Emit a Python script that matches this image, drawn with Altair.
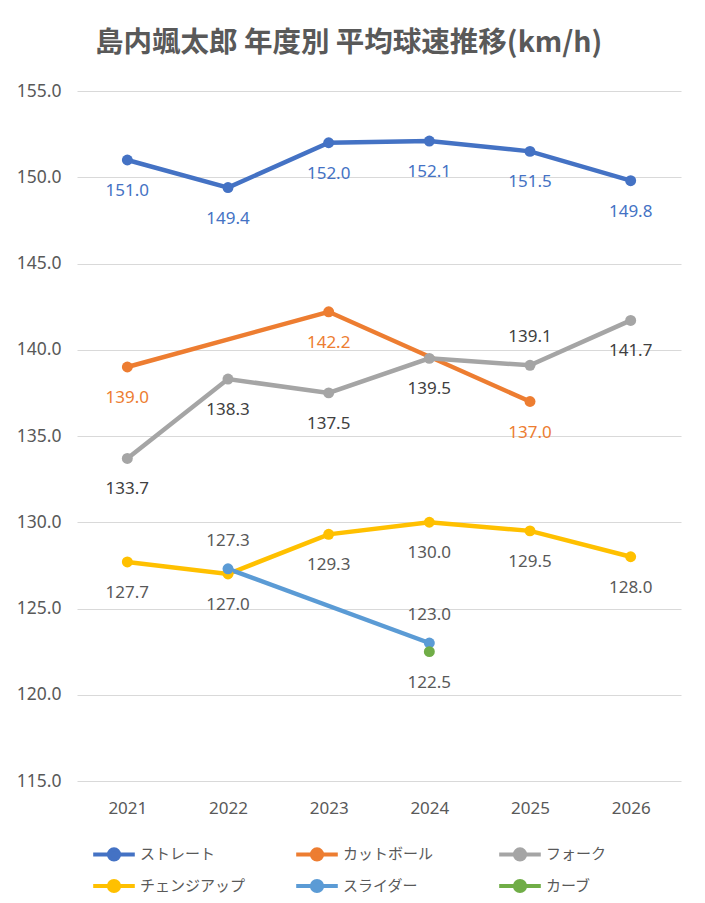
import altair as alt
import pandas as pd

years = ["2021", "2022", "2023", "2024", "2025", "2026"]
series = ["ストレート", "カットボール", "フォーク", "チェンジアップ", "スライダー", "カーブ"]
straight = [151.0, 149.4, 152.0, 152.1, 151.5, 149.8]
cutball = [139.0, None, 142.2, None, 137.0, None]
fork = [133.7, 138.3, 137.5, 139.5, 139.1, 141.7]
changeup = [127.7, 127.0, 129.3, 130.0, 129.5, 128.0]
slider = [None, 127.3, None, 123.0, None, None]
curve = [None, None, None, 122.5, None, None]
values = [straight, cutball, fork, changeup, slider, curve]

colors = ["#4472C4", "#ED7D31", "#A5A5A5", "#FFC000", "#5B9BD5", "#70AD47"]
label_colors = ["#4472C4", "#ED7D31", "#404040", "#595959", "#595959", "#595959"]
labels_above = {("フォーク", "2025"), ("スライダー", "2022"), ("スライダー", "2024")}

rows = []
for si, (s, vals) in enumerate(zip(series, values)):
    for y, v in zip(years, vals):
        if v is None:
            continue
        rows.append({
            "series": s, "order": si, "year": y, "speed": v,
            "lc": label_colors[si],
            "pos": "above" if (s, y) in labels_above else "below",
        })
df = pd.DataFrame(rows)

FONT = "Noto Sans"
JFONT = "Noto Sans CJK JP"

legend_symbol = "M-1.3,0L1.3,0M0.32,0A0.32,0.32,0,1,1,-0.32,0A0.32,0.32,0,1,1,0.32,0Z"

x = alt.X("year:O", title=None,
          scale=alt.Scale(domain=years, paddingOuter=0.5),
          axis=alt.Axis(labelAngle=0, domain=False, ticks=False, labelPadding=19,
                        labelFont=FONT, labelFontSize=17, labelColor="#595959"))
y = alt.Y("speed:Q", title=None,
          scale=alt.Scale(domain=[115, 155], nice=False, zero=False),
          axis=alt.Axis(values=[115, 120, 125, 130, 135, 140, 145, 150, 155], format=".1f",
                        domain=False, ticks=False, labelPadding=16, gridColor="#D9D9D9",
                        labelFont=FONT, labelFontSize=17.5, labelColor="#595959"))
color = alt.Color("series:N", title=None,
                  scale=alt.Scale(domain=series, range=colors),
                  legend=alt.Legend(orient="none", legendX=19, legendY=745, columns=3,
                                    direction="horizontal", gridAlign="all",
                                    columnPadding=42, rowPadding=0,
                                    symbolType=legend_symbol, symbolSize=1024,
                                    symbolStrokeWidth=4, symbolOffset=0,
                                    labelFont=JFONT, labelFontSize=15, labelColor="#595959",
                                    labelOffset=8))

base = alt.Chart(df)
lines = base.mark_line(strokeWidth=4.5).encode(x=x, y=y, color=color, order="order:Q")
points = base.mark_point(filled=True, size=120, opacity=1).encode(x=x, y=y, color=color)

text_enc = dict(x=x, y=y, text=alt.Text("speed:Q", format=".1f"),
                color=alt.Color("lc:N", scale=None))
below = base.transform_filter(alt.datum.pos == "below").mark_text(
    dy=31, font=FONT, fontSize=17).encode(**text_enc)
above = base.transform_filter(alt.datum.pos == "above").mark_text(
    dy=-28, font=FONT, fontSize=17).encode(**text_enc)

chart = alt.layer(lines, points, below, above).properties(
    width=604, height=690,
    title=alt.Title("島内颯太郎 年度別 平均球速推移(km/h)", font=JFONT, fontSize=28.5,
                    fontWeight="bold", color="#595959", anchor="middle", frame="bounds",
                    offset=25),
    padding={"left": 69, "top": 83, "right": 16, "bottom": 114},
    autosize=alt.AutoSizeParams(type="none"),
    background="white",
).configure_view(strokeWidth=0)

chart.save("out.html", embed_options={"renderer": "svg", "actions": False})
